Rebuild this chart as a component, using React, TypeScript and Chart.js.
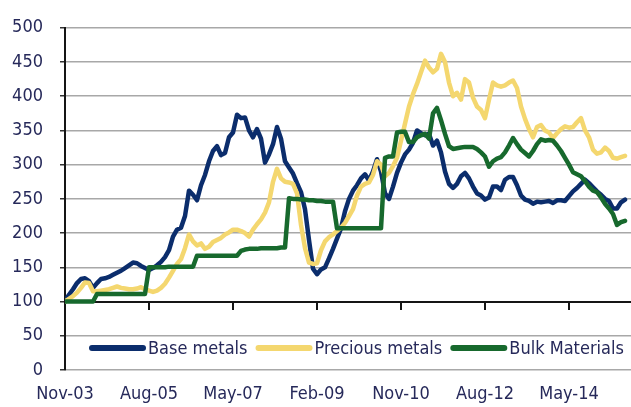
import React, { useEffect, useRef } from 'react';
import { Chart, registerables } from 'chart.js';

Chart.register(...registerables);

// ---- Data (monthly index from Nov-03, index 0) ----
const seriesNames = ['Base metals', 'Precious metals', 'Bulk Materials'];

const baseMetals = [
  100, 110, 118, 127, 133, 134, 130, 120, 127, 133,
  134, 136, 139, 142, 145, 149, 153, 157, 156, 152,
  149, 146, 149, 153, 158, 165, 175, 195, 205, 208,
  225, 262, 256, 248, 270, 285, 305, 320, 327, 314,
  317, 340, 347, 373, 368, 369, 350, 340, 352, 338,
  303, 315, 330, 355, 338, 305, 296, 287, 273, 260,
  235, 190, 148, 140, 147, 150, 163, 177, 192, 207,
  232, 250, 262, 270, 280, 286, 277, 290, 308, 290,
  258, 250, 268, 288, 303, 315, 322, 332, 350, 346,
  343, 345, 328, 335, 318, 290, 272, 266, 272, 283,
  288, 280, 268, 258, 255, 249, 252, 268, 268, 263,
  278, 282, 282, 270, 255, 249, 247, 243, 246, 245,
  246, 247, 244, 248, 248, 247, 254, 261, 266, 272,
  278, 273, 267, 261, 256, 250, 247, 236, 236, 245,
  249,
];

const preciousMetals = [
  100, 104, 108, 113, 120, 128, 127, 115, 115, 116,
  117, 118, 120, 122, 120, 119, 118, 118, 119, 121,
  118, 116, 114, 116, 120, 126, 135, 145, 155, 162,
  178, 198, 188, 182, 185, 177, 180, 187, 190, 193,
  198, 201, 205, 205, 203, 200, 195, 205, 213, 220,
  230, 245, 275, 294, 280, 275, 274, 272, 258, 212,
  178, 157, 155, 156, 175, 188, 194, 198, 203, 208,
  215, 225, 235, 255, 268, 272, 274, 285, 305, 300,
  283, 288, 298, 310, 335, 360, 385, 403, 418, 435,
  452, 442, 435, 440, 462, 450, 420, 400, 405, 395,
  425, 420, 398, 385, 380, 368, 395, 420, 416, 414,
  416, 420, 423, 412, 385, 367, 352, 340, 355, 358,
  350, 347, 339, 346, 352, 356, 354, 355, 362, 368,
  350, 340, 322, 316, 318, 325, 320, 310, 309, 311,
  313,
];

const bulkMaterials = [
  100, 100, 100, 100, 100, 100, 100, 100, 111, 111,
  111, 111, 111, 111, 111, 111, 111, 111, 111, 111,
  111, 150, 150, 150, 150, 150, 151, 151, 151, 151,
  151, 151, 151, 167, 167, 167, 167, 167, 167, 167,
  167, 167, 167, 167, 174, 176, 177, 177, 177, 178,
  178, 178, 178, 178, 179, 179, 251, 250, 250, 249,
  249, 248, 248, 247, 247, 246, 246, 246, 207, 207,
  207, 207, 207, 207, 207, 207, 207, 207, 207, 207,
  310, 312, 312, 347, 348, 348, 333, 333, 340, 343,
  345, 338, 375, 383, 365, 345, 327, 323, 324, 325,
  326, 326, 326, 323, 318, 312, 297, 305, 309, 311,
  318, 328, 339, 330, 322, 317, 312, 320, 330, 337,
  335, 336, 335, 328, 320, 310, 300, 289, 286, 283,
  276, 268, 262, 260, 252, 243, 236, 228, 212, 216,
  218,
];

const tickLabels = ['Nov-03', 'Aug-05', 'May-07', 'Feb-09', 'Nov-10', 'Aug-12', 'May-14'];
const tickStepMonths = 21;
const xMaxMonths = 141.5;
const yMin = 0;
const yMax = 500;
const yStep = 50;
const axisCrossValue = 100;

const seriesValues = [baseMetals, preciousMetals, bulkMaterials];
const seriesColors = ['#0b2d6c', '#f4d76f', '#17692d'];

const FONT_FAMILY = "'DejaVu Sans Condensed', 'Liberation Sans', Arial, sans-serif";
const FONT_SIZE = 18;
const TEXT_COLOR = '#26295a';

const crossAxisPlugin = {
  id: 'crossAxis',
  beforeDatasetsDraw(chart: any) {
    const { ctx, chartArea, scales } = chart;
    const y = Math.round(scales.y.getPixelForValue(axisCrossValue));
    ctx.save();
    ctx.strokeStyle = '#151515';
    ctx.lineWidth = 2;
    ctx.beginPath();
    ctx.moveTo(chartArea.left, y);
    ctx.lineTo(chartArea.right, y);
    ctx.stroke();
    scales.x.ticks.forEach((t: any) => {
      const x = Math.round(scales.x.getPixelForValue(t.value));
      if (x <= chartArea.left + 2) return;
      ctx.beginPath();
      ctx.moveTo(x, y);
      ctx.lineTo(x, y + 8);
      ctx.stroke();
    });
    ctx.restore();
  },
};

const legendPlugin = {
  id: 'insideLegend',
  afterDraw(chart: any) {
    const { ctx } = chart;
    ctx.save();
    ctx.font = `${FONT_SIZE}px ${FONT_FAMILY}`;
    ctx.textBaseline = 'middle';
    ctx.textAlign = 'left';
    let x = 89;
    const y = 348;
    chart.data.datasets.forEach((ds: any) => {
      ctx.strokeStyle = ds.borderColor;
      ctx.lineWidth = 6;
      ctx.lineCap = 'round';
      ctx.beginPath();
      ctx.moveTo(x + 3, y);
      ctx.lineTo(x + 54, y);
      ctx.stroke();
      x += 59;
      ctx.fillStyle = TEXT_COLOR;
      ctx.fillText(ds.label, x, y + 1);
      x += ctx.measureText(ds.label).width + 8;
    });
    ctx.restore();
  },
};

export default function App() {
  const canvasRef = useRef<HTMLCanvasElement | null>(null);

  useEffect(() => {
    if (!canvasRef.current) return;
    const chart = new Chart(canvasRef.current, {
      type: 'line',
      data: {
        datasets: seriesNames.map((name, i) => ({
          label: name,
          data: seriesValues[i].map((v, m) => ({ x: m, y: v })),
          borderColor: seriesColors[i],
          backgroundColor: seriesColors[i],
          borderWidth: 4.5,
          pointRadius: 0,
          tension: 0,
          borderJoinStyle: 'round',
          borderCapStyle: 'round',
          order: seriesNames.length - i,
        })),
      },
      options: {
        animation: false,
        responsive: false,
        devicePixelRatio: 1,
        layout: { padding: { left: 12, top: 19, right: 0, bottom: 0 } },
        plugins: {
          legend: { display: false },
          tooltip: { enabled: false },
        },
        scales: {
          x: {
            type: 'linear',
            min: 0,
            max: xMaxMonths,
            grid: { display: false, drawTicks: false },
            border: { display: false },
            afterBuildTicks: (scale: any) => {
              scale.ticks = tickLabels.map((_, i) => ({ value: i * tickStepMonths }));
            },
            afterFit: (scale: any) => {
              scale.height = 37;
            },
            ticks: {
              autoSkip: false,
              maxRotation: 0,
              padding: 14,
              color: TEXT_COLOR,
              font: { family: FONT_FAMILY, size: FONT_SIZE, lineHeight: 1.1 },
              callback: (value: any) => tickLabels[Math.round(Number(value) / tickStepMonths)] ?? '',
            },
          },
          y: {
            min: yMin,
            max: yMax,
            afterFit: (scale: any) => {
              scale.width = 53;
            },
            grid: {
              color: '#a8a8a8',
              lineWidth: 1.5,
              tickLength: 5,
              tickColor: '#333333',
            },
            border: { display: true, color: '#151515', width: 2 },
            ticks: {
              stepSize: yStep,
              padding: 17,
              color: TEXT_COLOR,
              font: { family: FONT_FAMILY, size: FONT_SIZE },
            },
          },
        },
      },
      plugins: [crossAxisPlugin, legendPlugin],
    } as any);
    return () => chart.destroy();
  }, []);

  return (
    <div style={{ position: 'absolute', left: 0, top: 0, width: 631, height: 407, background: '#fff' }}>
      <canvas ref={canvasRef} width={631} height={407} style={{ display: 'block' }} />
    </div>
  );
}
